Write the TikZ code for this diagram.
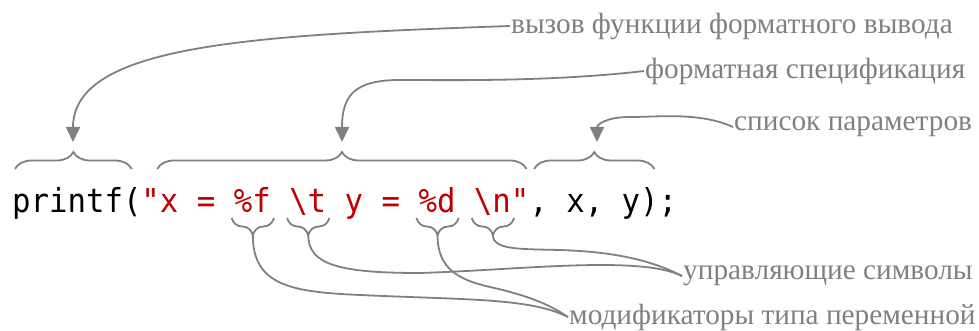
\documentclass[tikz,border=0pt]{standalone}
\usepackage{fontspec}
\usetikzlibrary{arrows.meta,calc,decorations.pathreplacing}
\newfontfamily\codefont{DejaVu Sans Mono}[FakeStretch=0.93]
\newfontfamily\notefont{Liberation Serif}
\definecolor{gris}{RGB}{128,128,128}
\definecolor{rojo}{RGB}{192,0,0}
\newcommand{\cw}{18.47}

\begin{document}
\begin{tikzpicture}[x=1pt, y=-1pt,
    codigo/.style={font=\codefont\fontsize{33}{38}\selectfont, inner sep=0pt, anchor=base west},
    nota/.style={font=\notefont\fontsize{29.3}{34}\selectfont, text=gris, inner sep=1pt, anchor=west},
    llave/.style={draw=gris, line width=1.8pt, decorate, decoration={brace, amplitude=17pt}},
    guia/.style={draw=gris, line width=1.8pt},
    flecha/.style={guia, -{Triangle[length=15pt, width=14pt]}}]
  \useasboundingbox (0,0) rectangle (979,331);
  % linea de codigo
  \node[codigo] (llamada) at (12,212) {printf(};
  \node[codigo, text=rojo] (ini) at ({12+7*\cw},212) {"x =};
  \node[codigo, text=rojo] (modf) at ({12+12*\cw},212) {\%f};
  \node[codigo, text=rojo] (esct) at ({12+15*\cw},212) {\textbackslash t};
  \node[codigo, text=rojo] (medio) at ({12+18*\cw},212) {y =};
  \node[codigo, text=rojo] (modd) at ({12+22*\cw},212) {\%d};
  \node[codigo, text=rojo] (escn) at ({12+25*\cw},212) {\textbackslash n};
  \node[codigo, text=rojo] (fin) at ({12+27*\cw},212) {"};
  \node[codigo] (args) at ({12+28*\cw},212) {, x, y);};
  % notas
  \node[nota] (nllamada) at (510,26) {вызов функции форматного вывода};
  \node[nota] (nformato) at (644,71) {форматная спецификация};
  \node[nota] (nparam) at (733,127) {список параметров};
  \node[nota] (ncontrol) at (682,276) {управляющие символы};
  \node[nota] (ntipo) at (568,317) {модификаторы типа переменной};
  % llaves de arriba
  \draw[llave] ($(llamada.base west)+(3,-43)$) -- ($(llamada.base east)+(-10,-43)$);
  \draw[llave] ($(ini.base west)+(16,-43)$) -- ($(fin.base east)+(-3,-43)$);
  \draw[llave] ($(args.base west)+(5,-43)$) -- ($(args.base east)+(-23,-43)$);
  \coordinate (pllamada) at (73,142);
  \coordinate (pformato) at (342,142);
  \coordinate (pparam) at (597,142);
  % llaves de abajo
  \foreach \t in {modf, esct, modd, escn}
    \draw[llave, decoration={mirror}] ($(\t.base west)+(-2,6)$) -- ($(\t.base east)+(3,6)$);
  \foreach \t in {modf, esct, modd, escn}
    \coordinate (p\t) at ($(\t.base)+(0.5,23)$);
  % flechas
  \draw[flecha] (nllamada.west) .. controls (250,35) and (73,45) .. (pllamada);
  \draw[flecha] (nformato.west) .. controls (550,82) and (450,80) .. (400,80)
    .. controls (355,80) and (342,95) .. (pformato);
  \draw[flecha] (nparam.west) .. controls (700,112) and (660,117) .. (630,117)
    .. controls (605,117) and (597,125) .. (pparam);
  % guias de abajo
  \draw[guia] (pesct) .. controls ($(pesct)+(0,30)$) and (340,273) .. (420,273)
    .. controls (520,270) and (640,255) .. (ncontrol.west);
  \draw[guia] (pescn) .. controls ($(pescn)+(0,15)$) and (520,249) .. (560,250)
    .. controls (620,252) and (655,262) .. (ncontrol.west);
  \draw[guia] (pmodd) .. controls ($(pmodd)+(0,35)$) and (460,280) .. (490,287)
    .. controls (530,296) and (550,305) .. (ntipo.west);
  \draw[guia] (pmodf) .. controls ($(pmodf)+(0,50)$) and (290,292) .. (360,295)
    .. controls (470,300) and (530,298) .. (ntipo.west);
\end{tikzpicture}
\end{document}
